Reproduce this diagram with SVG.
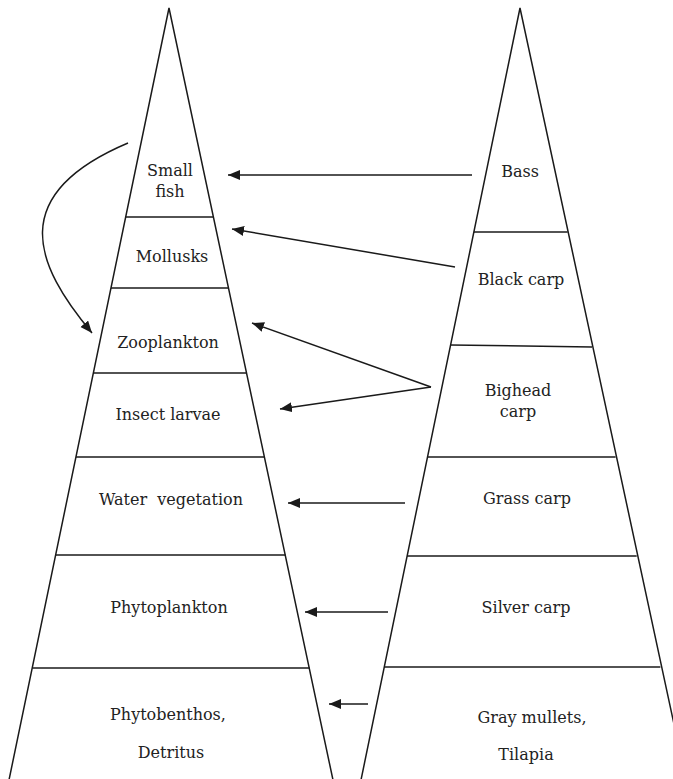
<svg xmlns="http://www.w3.org/2000/svg" width="673" height="779" viewBox="0 0 673 779">
<style>
.shape{fill:none;stroke:#1a1a1a;stroke-width:1.5}
.div{stroke:#1a1a1a;stroke-width:1.5}
.arr{fill:none;stroke:#1a1a1a;stroke-width:1.5;marker-end:url(#ah)}
text{font-family:"DejaVu Serif","Liberation Serif",serif;font-size:16px;fill:#222;text-anchor:middle;white-space:pre}
</style>
<defs>
<marker id="ah" markerUnits="userSpaceOnUse" markerWidth="13" markerHeight="11" refX="12" refY="5" orient="auto">
<path d="M0,0 L12,5 L0,10 z" fill="#1a1a1a"/>
</marker>
</defs>
<rect width="673" height="779" fill="#fff"/>
<g id="left-pyramid">
<path class="shape" d="M9,780 L169,8 L333,780"/>
<line class="div" x1="125.7" y1="217" x2="213.5" y2="217"/>
<line class="div" x1="111" y1="288" x2="228.6" y2="288"/>
<line class="div" x1="93.4" y1="373" x2="246.7" y2="373"/>
<line class="div" x1="76" y1="457" x2="264.6" y2="457"/>
<line class="div" x1="55.8" y1="555" x2="285.5" y2="555"/>
<line class="div" x1="32.4" y1="668" x2="309.6" y2="668"/>
</g>
<g id="right-pyramid">
<path class="shape" d="M361,780 L520,8 L686,780"/>
<line class="div" x1="473.9" y1="232" x2="567.7" y2="232"/>
<line class="div" x1="450.4" y1="345" x2="592" y2="347"/>
<line class="div" x1="427.5" y1="457" x2="615.6" y2="457"/>
<line class="div" x1="407" y1="556" x2="636.7" y2="556"/>
<line class="div" x1="384.2" y1="667" x2="660.4" y2="667"/>
</g>
<g id="small-fish"><text x="170" y="176">Small</text><text x="170" y="197">fish</text></g>
<g id="mollusks"><text x="172" y="262">Mollusks</text></g>
<g id="zooplankton"><text x="168" y="348">Zooplankton</text></g>
<g id="insect-larvae"><text x="168" y="420">Insect larvae</text></g>
<g id="water-vegetation"><text x="171" y="505">Water  vegetation</text></g>
<g id="phytoplankton"><text x="169" y="613">Phytoplankton</text></g>
<g id="phytobenthos"><text x="168" y="720">Phytobenthos,</text><text x="171" y="758">Detritus</text></g>
<g id="bass"><text x="520" y="177">Bass</text></g>
<g id="black-carp"><text x="521" y="285">Black carp</text></g>
<g id="bighead-carp"><text x="518" y="396">Bighead</text><text x="518" y="417">carp</text></g>
<g id="grass-carp"><text x="527" y="504">Grass carp</text></g>
<g id="silver-carp"><text x="526" y="613">Silver carp</text></g>
<g id="gray-mullets"><text x="532" y="723">Gray mullets,</text><text x="526" y="760">Tilapia</text></g>
<g id="connectors">
<line class="arr" x1="472" y1="175" x2="228" y2="175"/>
<line class="arr" x1="455" y1="267" x2="232" y2="229"/>
<line class="arr" x1="431" y1="387" x2="252" y2="323"/>
<line class="arr" x1="431" y1="387" x2="280" y2="409"/>
<line class="arr" x1="405" y1="503" x2="288" y2="503"/>
<line class="arr" x1="388" y1="612" x2="305" y2="612"/>
<line class="arr" x1="368" y1="704" x2="329" y2="704"/>
<path class="arr" d="M128,143 C5,195 35,265 92,333"/>
</g>
</svg>
